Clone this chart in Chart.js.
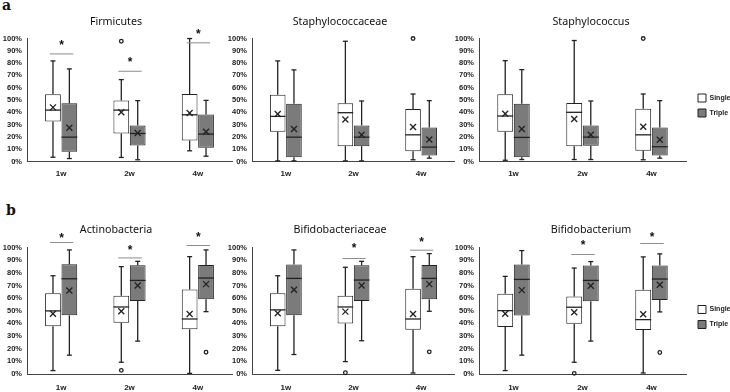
<!DOCTYPE html>
<html>
<head>
<meta charset="utf-8">
<script src="https://cdn.jsdelivr.net/npm/chart.js@4.4.1/dist/chart.umd.min.js"></script>
<style>
  body { margin: 0; background: #fff; width: 730px; height: 392px; position: relative; overflow: hidden; }
  canvas { position: absolute; }
  .tag { position: absolute; font: bold 14px "DejaVu Serif", serif; color: #111; }
</style>
</head>
<body>
<div class="tag" style="left:2px;top:-3px">a</div>
<div class="tag" style="left:6px;top:202px">b</div>
<canvas id="firm" width="240" height="185" style="left:0;top:0"></canvas>
<canvas id="staphAceae" width="230" height="185" style="left:225px;top:0"></canvas>
<canvas id="staph" width="278" height="185" style="left:452px;top:0"></canvas>
<canvas id="actino" width="240" height="202" style="left:0;top:190px"></canvas>
<canvas id="bifAceae" width="230" height="202" style="left:225px;top:190px"></canvas>
<canvas id="bif" width="278" height="202" style="left:452px;top:190px"></canvas>
<script>
const weeks = ['1w', '2w', '4w'];

// rows per week: [min, q1, median, q3, max, mean]  (% of reads)
const firmicutesSingle = [[3.5, 32.6, 41.8, 54.6, 81.8, 44.0], [3.3, 22.8, 41.8, 49.7, 66.6, 40.0], [8.7, 17.1, 38.0, 54.9, 100, 39.4]];
const firmicutesTriple = [[2.4, 7.9, 19.8, 47.3, 75.3, 27.4], [1.4, 13.0, 22.8, 29.3, 49.5, 23.2], [4.3, 11.1, 22.3, 38.3, 49.7, 24.2]];
const firmicutesSingleOut = [[], [97.8], []];
const firmicutesTripleOut = [[], [], []];
const firmicutesSigBar = [87.5, 73.4, 96.5];
const firmicutesSigStar = [97.5, 83, 106.5];

const staphylococcaceaeSingle = [[0.5, 24.2, 36.7, 54.3, 81.8, 38.6], [0.5, 12.5, 39.7, 47.3, 97.8, 34.2], [1.4, 8.4, 21.7, 42.7, 54.9, 28.0]];
const staphylococcaceaeTriple = [[0.5, 3.5, 19.8, 47.0, 74.5, 26.4], [0.5, 12.5, 19.8, 29.3, 49.2, 21.7], [2.7, 4.9, 11.7, 27.7, 49.5, 17.9]];
const staphylococcaceaeSingleOut = [[], [], [100]];
const staphylococcaceaeTripleOut = [[], [], []];

const staphylococcusSingle = [[1.0, 24.2, 37.0, 54.6, 82.0, 38.9], [1.6, 12.5, 40.0, 47.6, 98.4, 34.5], [1.4, 8.7, 21.7, 42.9, 54.9, 28.3]];
const staphylococcusTriple = [[1.6, 3.5, 19.6, 47.0, 74.7, 26.4], [1.6, 12.8, 19.8, 29.3, 49.2, 21.7], [2.7, 4.9, 12.0, 27.7, 49.5, 17.7]];
const staphylococcusSingleOut = [[], [], [100]];
const staphylococcusTripleOut = [[], [], []];

const actinobacteriaSingle = [[2.7, 37.7, 49.9, 63.9, 77.7, 47.7], [9.3, 40.6, 53.0, 61.8, 84.9, 49.6], [0.5, 35.3, 43.5, 66.8, 92.8, 47.5]];
const actinobacteriaTriple = [[14.9, 46.4, 75.3, 86.7, 98.1, 66.0], [26.0, 57.8, 74.0, 85.9, 89.1, 70.0], [49.3, 59.2, 75.9, 86.2, 98.1, 71.1]];
const actinobacteriaSingleOut = [[], [2.9], []];
const actinobacteriaTripleOut = [[], [], [17.2]];
const actinobacteriaSigBar = [104, 91.8, 101.6];
const actinobacteriaSigStar = [110, 100.6, 111];

const bifidobacteriaceaeSingle = [[2.9, 37.7, 50.7, 63.9, 77.7, 48.0], [9.8, 40.0, 53.0, 61.8, 84.4, 49.3], [0.8, 35.0, 43.5, 67.4, 92.8, 47.5]];
const bifidobacteriaceaeTriple = [[15.4, 46.4, 75.6, 86.5, 98.1, 66.6], [26.3, 57.8, 74.3, 85.9, 89.1, 70.0], [49.6, 59.2, 75.6, 86.2, 95.2, 71.1]];
const bifidobacteriaceaeSingleOut = [[], [1.0], []];
const bifidobacteriaceaeTripleOut = [[], [], [17.5]];
const bifidobacteriaceaeSigBar = [null, 91.3, 97.9];
const bifidobacteriaceaeSigStar = [null, 101.9, 107];

const bifidobacteriumSingle = [[2.7, 37.1, 50.1, 63.4, 77.2, 47.7], [9.3, 39.8, 52.8, 61.3, 83.8, 48.8], [0.8, 34.7, 43.0, 66.6, 92.6, 47.2]];
const bifidobacteriumTriple = [[14.9, 46.2, 74.8, 86.5, 97.6, 66.3], [26.0, 57.6, 74.0, 85.7, 88.9, 69.8], [49.1, 58.6, 75.1, 85.7, 95.0, 70.6]];
const bifidobacteriumSingleOut = [[], [0.5], []];
const bifidobacteriumTripleOut = [[], [], [17.0]];
const bifidobacteriumSigBar = [null, 94.5, 103.2];
const bifidobacteriumSigStar = [null, 104.5, 110.5];

const noSig = [null, null, null];

// whiskers, medians, means, outliers and significance marks
const boxExtras = {
  id: 'boxExtras',
  afterLayout(chart, args, opts) {
    // nudge the legend a little, like the Excel original
    const lg = chart.legend;
    if (!lg || !opts.legendShift) return;
    lg.left += opts.legendShift.x; lg.right += opts.legendShift.x;
    lg.top += opts.legendShift.y; lg.bottom += opts.legendShift.y;
  },
  afterDatasetsDraw(chart, args, opts) {
    const ctx = chart.ctx;
    const y = chart.scales.y;
    const line = (x1, y1, x2, y2) => { ctx.beginPath(); ctx.moveTo(x1, y1); ctx.lineTo(x2, y2); ctx.stroke(); };
    ctx.save();
    chart.data.datasets.forEach((ds, di) => {
      chart.getDatasetMeta(di).data.forEach((bar, i) => {
        const s = ds.stats[i];
        const x = bar.x, hw = bar.width / 2;
        ctx.strokeStyle = '#222';
        ctx.lineWidth = 1.3;
        line(x, y.getPixelForValue(s[3]), x, y.getPixelForValue(s[4]));
        line(x, y.getPixelForValue(s[1]), x, y.getPixelForValue(s[0]));
        line(x - 2.5, y.getPixelForValue(s[4]), x + 2.5, y.getPixelForValue(s[4]));
        line(x - 2.5, y.getPixelForValue(s[0]), x + 2.5, y.getPixelForValue(s[0]));
        line(x - hw, y.getPixelForValue(s[2]), x + hw, y.getPixelForValue(s[2]));
        const my = y.getPixelForValue(s[5]);
        line(x - 3, my - 3, x + 3, my + 3);
        line(x - 3, my + 3, x + 3, my - 3);
        ds.outliers[i].forEach(v => {
          ctx.beginPath();
          ctx.arc(x, y.getPixelForValue(v), 1.8, 0, Math.PI * 2);
          ctx.stroke();
        });
      });
    });
    const single = chart.getDatasetMeta(0).data;
    const triple = chart.getDatasetMeta(1).data;
    opts.sigBar.forEach((v, i) => {
      if (v === null) return;
      const x1 = single[i].x - 3, x2 = triple[i].x + 4;
      const by = y.getPixelForValue(v);
      ctx.strokeStyle = '#8c8c8c';
      ctx.lineWidth = 1;
      line(x1, by, x2, by);
      ctx.fillStyle = '#111';
      ctx.font = 'bold 12px "Liberation Sans", sans-serif';
      ctx.textAlign = 'center';
      ctx.textBaseline = 'alphabetic';
      ctx.fillText('*', (x1 + x2) / 2, y.getPixelForValue(opts.sigStar[i]) + 7);
    });
    ctx.restore();
  }
};

function boxPanel(id, title, single, singleOut, triple, tripleOut, sigBar, sigStar, row, padRight, legend) {
  const canvas = document.getElementById(id);
  const geo = row === 0
    ? { titleTop: 15.6, titleBottom: 10.1, xHeight: 23.5, xPad: 7, legendDy: 13 }
    : { titleTop: 33.6, titleBottom: 11.1, xHeight: 18, xPad: 9, legendDy: 26 };
  return new Chart(canvas, {
    type: 'bar',
    data: {
      labels: weeks,
      datasets: [
        { label: 'Single', data: single.map(s => [s[1], s[3]]), stats: single, outliers: singleOut,
          backgroundColor: '#ffffff', borderColor: '#222', borderWidth: 1, borderSkipped: false },
        { label: 'Triple', data: triple.map(s => [s[1], s[3]]), stats: triple, outliers: tripleOut,
          backgroundColor: '#7b7b7b', borderColor: '#222', borderWidth: 1, borderSkipped: false }
      ]
    },
    options: {
      responsive: false,
      animation: false,
      categoryPercentage: 0.48,
      barPercentage: 0.96,
      layout: { padding: { right: padRight } },
      scales: {
        x: {
          grid: { display: false, drawTicks: false },
          border: { display: true, color: '#444', width: 1 },
          ticks: { color: '#222', padding: geo.xPad, font: { family: 'Liberation Sans', size: 8, weight: 'bold' } },
          afterFit(s) { s.height = geo.xHeight; }
        },
        y: {
          min: 0, max: 100,
          grid: { display: false, drawTicks: false },
          border: { display: true, color: '#444', width: 1 },
          ticks: { stepSize: 10, color: '#222', padding: 5, callback: v => v + '%',
                   font: { family: 'Liberation Sans', size: 7.5, weight: 'bold' } },
          afterFit(s) { s.width = 27; }
        }
      },
      plugins: {
        title: { display: true, text: title, color: '#111',
                 font: { family: 'Noto Sans', size: 10.7, weight: 'normal' },
                 padding: { top: geo.titleTop, bottom: geo.titleBottom } },
        legend: {
          display: !!legend, position: 'right', maxWidth: 44,
          labels: { boxWidth: 8, boxHeight: 8, padding: 7, color: '#222',
                    font: { family: 'Liberation Sans', size: 7, weight: 'bold' } }
        },
        tooltip: { enabled: false },
        boxExtras: { sigBar: sigBar, sigStar: sigStar, legendShift: legend ? { x: 5, y: geo.legendDy } : null }
      }
    },
    plugins: [boxExtras]
  });
}

boxPanel('firm', 'Firmicutes', firmicutesSingle, firmicutesSingleOut, firmicutesTriple, firmicutesTripleOut, firmicutesSigBar, firmicutesSigStar, 0, 8, false);
boxPanel('staphAceae', 'Staphylococcaceae', staphylococcaceaeSingle, staphylococcaceaeSingleOut, staphylococcaceaeTriple, staphylococcaceaeTripleOut, noSig, noSig, 0, 0, false);
boxPanel('staph', 'Staphylococcus', staphylococcusSingle, staphylococcusSingleOut, staphylococcusTriple, staphylococcusTripleOut, noSig, noSig, 0, 0, true);
boxPanel('actino', 'Actinobacteria', actinobacteriaSingle, actinobacteriaSingleOut, actinobacteriaTriple, actinobacteriaTripleOut, actinobacteriaSigBar, actinobacteriaSigStar, 1, 8, false);
boxPanel('bifAceae', 'Bifidobacteriaceae', bifidobacteriaceaeSingle, bifidobacteriaceaeSingleOut, bifidobacteriaceaeTriple, bifidobacteriaceaeTripleOut, bifidobacteriaceaeSigBar, bifidobacteriaceaeSigStar, 1, 0, false);
boxPanel('bif', 'Bifidobacterium', bifidobacteriumSingle, bifidobacteriumSingleOut, bifidobacteriumTriple, bifidobacteriumTripleOut, bifidobacteriumSigBar, bifidobacteriumSigStar, 1, 0, true);
</script>
</body>
</html>
